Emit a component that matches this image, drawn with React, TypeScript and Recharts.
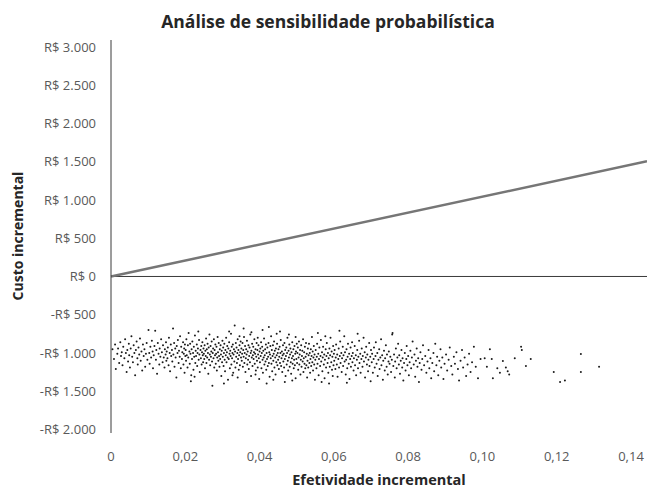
import React from 'react';
import { ScatterChart, Scatter, XAxis, YAxis, ReferenceLine } from 'recharts';

// Probabilistic sensitivity analysis simulations: [incremental effectiveness, incremental cost]
const psaSimulations: [number, number][] = [
  [0.0004,-950],[0.0008,-1080],[0.0011,-890],[0.0013,-1210],[0.0017,-1010],[0.0019,-940],[0.0022,-1130],[0.0025,-860],[0.0027,-1040],[0.0029,-990],[0.0031,-1160],[0.0033,-920],[0.0036,-1070],[0.0038,-820],[0.0040,-1000],[0.0042,-1250],[0.0044,-960],[0.0046,-1110],[0.0048,-880],[0.0049,-1030],
  [0.0051,-1190],[0.0053,-940],[0.0055,-780],[0.0057,-1050],[0.0059,-1120],[0.0061,-900],[0.0063,-1000],[0.0065,-1290],[0.0067,-960],[0.0069,-850],[0.0071,-1070],[0.0072,-1150],[0.0074,-930],[0.0076,-1020],[0.0078,-810],[0.0080,-1100],[0.0082,-980],[0.0084,-1230],[0.0086,-890],[0.0088,-1040],[0.0090,-950],[0.0092,-1180],[0.0094,-1010],[0.0096,-870],[0.0098,-1090],
  [0.0101,-700],[0.0103,-1000],[0.0104,-1140],[0.0106,-920],[0.0108,-1060],[0.0110,-840],[0.0112,-980],[0.0113,-1200],[0.0115,-1030],[0.0117,-910],[0.0119,-710],[0.0121,-1090],[0.0122,-960],[0.0124,-1270],[0.0126,-870],[0.0128,-1010],[0.0130,-1150],[0.0131,-940],[0.0133,-1050],[0.0135,-820],[0.0137,-990],[0.0139,-1120],[0.0140,-900],[0.0142,-1060],[0.0144,-1190],[0.0145,-950],[0.0147,-1020],[0.0148,-860],[0.0149,-1100],[0.0150,-980],
  [0.0152,-1070],[0.0153,-930],[0.0155,-1160],[0.0156,-800],[0.0158,-1000],[0.0159,-1240],[0.0161,-890],[0.0162,-1040],[0.0164,-960],[0.0165,-1110],[0.0167,-680],[0.0168,-1020],[0.0170,-870],[0.0171,-1180],[0.0173,-940],[0.0174,-1060],[0.0176,-1320],[0.0177,-910],[0.0179,-1000],[0.0180,-830],[0.0182,-1130],[0.0183,-970],[0.0185,-1050],[0.0186,-780],[0.0188,-1200],[0.0189,-920],[0.0191,-1080],[0.0192,-990],[0.0194,-860],[0.0195,-1150],[0.0196,-1010],[0.0197,-940],[0.0198,-1260],[0.0199,-890],[0.0200,-1040],
  [0.0201,-960],[0.0202,-1100],[0.0203,-820],[0.0204,-1030],[0.0206,-1190],[0.0207,-900],[0.0208,-1060],[0.0209,-740],[0.0211,-980],[0.0212,-1140],[0.0213,-880],[0.0214,-1010],[0.0216,-1290],[0.0217,-950],[0.0218,-1080],[0.0219,-850],[0.0221,-1000],[0.0222,-1220],[0.0223,-920],[0.0224,-1050],[0.0226,-770],[0.0227,-1130],[0.0228,-970],[0.0229,-1040],[0.0231,-890],[0.0232,-1170],[0.0233,-1000],[0.0234,-940],[0.0236,-1090],[0.0237,-830],[0.0238,-1020],[0.0239,-1250],[0.0241,-960],[0.0242,-1070],[0.0243,-910],[0.0244,-1150],[0.0245,-990],[0.0246,-860],[0.0247,-1030],[0.0248,-1120],[0.0249,-940],[0.0250,-1010],[0.0215,-1370],[0.0235,-720],[0.0225,-1310],
  [0.0251,-1080],[0.0252,-900],[0.0253,-1200],[0.0254,-970],[0.0255,-1040],[0.0256,-810],[0.0257,-1130],[0.0258,-950],[0.0259,-1060],[0.0260,-880],[0.0261,-1000],[0.0262,-1270],[0.0263,-930],[0.0264,-1090],[0.0265,-760],[0.0266,-1020],[0.0267,-1160],[0.0268,-910],[0.0269,-1050],[0.0270,-980],[0.0271,-850],[0.0272,-1110],[0.0273,-1430],[0.0274,-1000],[0.0275,-940],[0.0276,-1070],[0.0277,-820],[0.0278,-1190],[0.0279,-960],[0.0280,-1030],[0.0281,-890],[0.0282,-1140],[0.0283,-1010],[0.0284,-920],[0.0285,-1230],[0.0286,-1060],[0.0287,-790],[0.0288,-990],[0.0289,-1100],[0.0290,-870],[0.0291,-1040],[0.0292,-1180],[0.0293,-950],[0.0294,-1080],[0.0295,-900],[0.0296,-1020],[0.0297,-1300],[0.0298,-970],[0.0299,-1120],[0.0300,-840],
  [0.0301,-1050],[0.0302,-930],[0.0303,-1170],[0.0304,-1000],[0.0305,-880],[0.0306,-1090],[0.0307,-1240],[0.0308,-960],[0.0309,-1030],[0.0310,-800],[0.0311,-1120],[0.0312,-990],[0.0313,-910],[0.0314,-1060],[0.0315,-1350],[0.0316,-940],[0.0317,-1080],[0.0318,-860],[0.0319,-1010],[0.0320,-1200],[0.0321,-970],[0.0322,-1040],[0.0323,-750],[0.0324,-1150],[0.0325,-920],[0.0326,-1070],[0.0327,-1000],[0.0328,-890],[0.0329,-1260],[0.0330,-1020],[0.0331,-950],[0.0332,-1110],[0.0333,-640],[0.0334,-980],[0.0335,-1190],[0.0336,-870],[0.0337,-1050],[0.0338,-930],[0.0339,-1130],[0.0340,-1000],[0.0341,-820],[0.0342,-1080],[0.0343,-960],[0.0344,-1220],[0.0345,-1030],[0.0346,-900],[0.0347,-1160],[0.0348,-990],[0.0349,-850],[0.0350,-1060],[0.0304,-1400],[0.0318,-720],[0.0327,-1290],[0.0341,-1320],[0.0346,-780],
  [0.0351,-940],[0.0352,-1100],[0.0353,-1010],[0.0354,-870],[0.0355,-1180],[0.0356,-960],[0.0357,-1050],[0.0358,-790],[0.0359,-1130],[0.0360,-1000],[0.0361,-910],[0.0362,-1250],[0.0363,-1070],[0.0364,-950],[0.0365,-1020],[0.0366,-840],[0.0367,-1150],[0.0368,-980],[0.0369,-1090],[0.0370,-900],[0.0371,-1210],[0.0372,-1040],[0.0373,-930],[0.0374,-1120],[0.0375,-760],[0.0376,-1000],[0.0377,-1300],[0.0378,-970],[0.0379,-1060],[0.0380,-880],[0.0381,-1170],[0.0382,-1030],[0.0383,-920],[0.0384,-1080],[0.0385,-990],[0.0386,-820],[0.0387,-1140],[0.0388,-1010],[0.0389,-950],[0.0390,-1230],[0.0391,-1050],[0.0392,-870],[0.0393,-1100],[0.0394,-960],[0.0395,-1190],[0.0396,-1020],[0.0397,-900],[0.0398,-1070],[0.0399,-1340],[0.0400,-980],[0.0357,-680],[0.0366,-1380],[0.0378,-730],[0.0389,-1280],[0.0395,-800],
  [0.0401,-1120],[0.0402,-940],[0.0403,-1040],[0.0404,-860],[0.0405,-1200],[0.0406,-1000],[0.0407,-920],[0.0408,-1090],[0.0409,-1260],[0.0410,-970],[0.0411,-1060],[0.0412,-810],[0.0413,-1150],[0.0414,-1030],[0.0415,-950],[0.0416,-1110],[0.0417,-890],[0.0418,-1220],[0.0419,-1000],[0.0420,-1080],[0.0421,-930],[0.0422,-1170],[0.0423,-1050],[0.0424,-870],[0.0425,-1130],[0.0426,-990],[0.0427,-1310],[0.0428,-1020],[0.0429,-910],[0.0430,-1070],[0.0431,-780],[0.0432,-1140],[0.0433,-960],[0.0434,-1240],[0.0435,-1040],[0.0436,-900],[0.0437,-1100],[0.0438,-1010],[0.0439,-850],[0.0440,-1190],[0.0441,-970],[0.0442,-1060],[0.0443,-1280],[0.0444,-940],[0.0445,-1120],[0.0446,-1030],[0.0447,-880],[0.0448,-1160],[0.0449,-1000],[0.0450,-1090],[0.0408,-700],[0.0419,-1400],[0.0425,-660],[0.0437,-1350],[0.0446,-750],
  [0.0451,-950],[0.0452,-1210],[0.0453,-1050],[0.0454,-920],[0.0455,-1130],[0.0456,-1000],[0.0457,-830],[0.0458,-1170],[0.0459,-1070],[0.0460,-980],[0.0461,-1250],[0.0462,-1030],[0.0463,-900],[0.0464,-1110],[0.0465,-1010],[0.0466,-1190],[0.0467,-870],[0.0468,-1080],[0.0469,-960],[0.0470,-1300],[0.0471,-1040],[0.0472,-930],[0.0473,-1150],[0.0474,-1000],[0.0475,-800],[0.0476,-1100],[0.0477,-1230],[0.0478,-970],[0.0479,-1060],[0.0480,-890],[0.0481,-1180],[0.0482,-1020],[0.0483,-940],[0.0484,-1120],[0.0485,-1270],[0.0486,-990],[0.0487,-1070],[0.0488,-860],[0.0489,-1140],[0.0490,-1040],[0.0491,-950],[0.0492,-1200],[0.0493,-1090],[0.0494,-910],[0.0495,-1160],[0.0496,-1010],[0.0497,-1330],[0.0498,-980],[0.0499,-1080],[0.0500,-880],[0.0455,-720],[0.0468,-1380],[0.0479,-760],[0.0488,-1360],[0.0497,-790],
  [0.0501,-1130],[0.0502,-1000],[0.0503,-930],[0.0504,-1220],[0.0505,-1060],[0.0506,-850],[0.0507,-1150],[0.0508,-1020],[0.0509,-960],[0.0510,-1280],[0.0511,-1090],[0.0512,-900],[0.0513,-1180],[0.0514,-1040],[0.0515,-970],[0.0516,-1110],[0.0517,-820],[0.0518,-1250],[0.0519,-1070],[0.0520,-990],[0.0521,-1140],[0.0522,-920],[0.0523,-1200],[0.0524,-1050],[0.0525,-870],[0.0526,-1160],[0.0527,-1010],[0.0528,-1320],[0.0529,-1100],[0.0530,-940],[0.0531,-1190],[0.0532,-1030],[0.0533,-880],[0.0534,-1130],[0.0535,-1000],[0.0536,-1260],[0.0537,-1080],[0.0538,-950],[0.0539,-1170],[0.0540,-1040],[0.0541,-790],[0.0542,-1120],[0.0543,-980],[0.0544,-1230],[0.0545,-1060],[0.0546,-910],[0.0547,-1150],[0.0548,-1020],[0.0549,-1350],[0.0550,-1090],
  [0.0551,-960],[0.0553,-1200],[0.0554,-1050],[0.0555,-880],[0.0556,-1140],[0.0558,-1010],[0.0559,-1290],[0.0560,-1080],[0.0561,-930],[0.0563,-1170],[0.0564,-1040],[0.0565,-830],[0.0566,-1110],[0.0568,-990],[0.0569,-1240],[0.0570,-1060],[0.0571,-920],[0.0573,-1150],[0.0574,-1020],[0.0575,-1330],[0.0576,-1090],[0.0578,-950],[0.0579,-1190],[0.0580,-1040],[0.0581,-870],[0.0583,-1130],[0.0584,-1000],[0.0585,-1260],[0.0586,-1070],[0.0588,-940],[0.0589,-1180],[0.0590,-1030],[0.0591,-800],[0.0593,-1120],[0.0594,-980],[0.0595,-1220],[0.0596,-1050],[0.0598,-910],[0.0599,-1160],[0.0600,-1010],[0.0557,-740],[0.0567,-1380],[0.0577,-780],[0.0587,-1400],[0.0597,-1300],
  [0.0601,-1100],[0.0602,-960],[0.0604,-1210],[0.0605,-1060],[0.0606,-890],[0.0608,-1150],[0.0609,-1020],[0.0610,-1310],[0.0612,-1080],[0.0613,-940],[0.0614,-1190],[0.0616,-1040],[0.0617,-850],[0.0618,-1130],[0.0620,-1000],[0.0621,-1250],[0.0622,-1070],[0.0624,-920],[0.0625,-1170],[0.0626,-1030],[0.0628,-780],[0.0629,-1110],[0.0630,-990],[0.0632,-1280],[0.0633,-1090],[0.0634,-950],[0.0636,-1200],[0.0637,-1050],[0.0638,-880],[0.0640,-1140],[0.0641,-1010],[0.0642,-1340],[0.0644,-1080],[0.0645,-930],[0.0646,-1180],[0.0648,-1040],[0.0649,-860],[0.0650,-1120],[0.0615,-710],[0.0635,-1390],
  [0.0651,-1000],[0.0653,-1230],[0.0654,-1070],[0.0656,-910],[0.0657,-1160],[0.0659,-1030],[0.0660,-1290],[0.0662,-1090],[0.0663,-960],[0.0665,-1200],[0.0666,-1050],[0.0668,-840],[0.0669,-1130],[0.0671,-1010],[0.0672,-1260],[0.0674,-1080],[0.0675,-940],[0.0677,-1180],[0.0678,-1040],[0.0680,-800],[0.0681,-1110],[0.0683,-990],[0.0684,-1320],[0.0686,-1060],[0.0687,-920],[0.0689,-1150],[0.0690,-1020],[0.0692,-1240],[0.0693,-1090],[0.0695,-870],[0.0696,-1170],[0.0698,-1050],[0.0699,-1370],[0.0700,-960],[0.0664,-750],
  [0.0702,-1120],[0.0703,-1010],[0.0705,-1260],[0.0707,-1080],[0.0708,-930],[0.0710,-1190],[0.0712,-1040],[0.0713,-860],[0.0715,-1140],[0.0717,-1000],[0.0718,-1300],[0.0720,-1090],[0.0722,-950],[0.0723,-1210],[0.0725,-1060],[0.0727,-820],[0.0728,-1160],[0.0730,-1030],[0.0732,-1350],[0.0733,-1100],[0.0735,-970],[0.0737,-1230],[0.0738,-1070],[0.0740,-900],[0.0742,-1180],[0.0743,-1020],[0.0745,-1280],[0.0747,-1110],[0.0748,-980],[0.0750,-1140],
  [0.0752,-1050],[0.0754,-1250],[0.0756,-1090],[0.0757,-760],[0.0758,-740],[0.0760,-1170],[0.0762,-1020],[0.0764,-1320],[0.0765,-1110],[0.0767,-940],[0.0769,-1200],[0.0771,-1060],[0.0773,-880],[0.0775,-1150],[0.0776,-1030],[0.0778,-1270],[0.0780,-1100],[0.0782,-960],[0.0784,-1190],[0.0785,-1070],[0.0787,-1360],[0.0789,-1130],[0.0791,-1000],[0.0793,-1230],[0.0795,-1080],[0.0796,-910],[0.0798,-1160],[0.0800,-1040],
  [0.0802,-1290],[0.0804,-1120],[0.0806,-970],[0.0808,-1200],[0.0810,-1060],[0.0812,-850],[0.0815,-1150],[0.0817,-1020],[0.0819,-1310],[0.0821,-1100],[0.0823,-940],[0.0825,-1180],[0.0827,-1070],[0.0829,-1380],[0.0831,-1130],[0.0833,-990],[0.0836,-1220],[0.0838,-1080],[0.0840,-900],[0.0843,-1160],[0.0846,-1040],[0.0849,-1260],
  [0.0852,-1110],[0.0855,-960],[0.0857,-1200],[0.0860,-1070],[0.0862,-1330],[0.0865,-1130],[0.0868,-1000],[0.0870,-1240],[0.0873,-880],[0.0876,-1160],[0.0878,-1050],[0.0881,-1290],[0.0884,-1100],[0.0887,-950],[0.0889,-1190],[0.0892,-1060],[0.0895,-1340],[0.0898,-1140],
  [0.0902,-1020],[0.0905,-1230],[0.0909,-1090],[0.0912,-930],[0.0916,-1170],[0.0919,-1280],[0.0923,-1050],[0.0926,-1140],[0.0930,-990],[0.0934,-1210],[0.0937,-1360],[0.0941,-1100],[0.0945,-960],[0.0948,-1190],[0.0952,-1060],[0.0956,-1300],[0.0960,-1150],[0.0964,-1010],[0.0968,-1250],[0.0972,-1120],[0.0977,-920],[0.0982,-1180],[0.0988,-1330],[0.0995,-1080],
  [0.1006,-1070],[0.1012,-1180],[0.1020,-950],[0.1025,-1080],[0.1028,-1330],[0.1040,-1200],[0.1047,-1260],[0.1055,-1105],[0.1063,-1190],[0.1068,-1240],[0.1072,-1280],[0.1087,-1070],[0.1104,-920],[0.1106,-960],[0.1117,-1170],[0.1130,-1080],
  [0.1192,-1250],[0.1209,-1380],[0.1222,-1360],[0.1265,-1015],[0.1265,-1250],[0.1314,-1180],
];

// Willingness-to-pay threshold line end points
const thresholdEffect = [0, 0.1443];
const thresholdCost = [0, 1505];

const xTicks = [0, 0.02, 0.04, 0.06, 0.08, 0.1, 0.12, 0.14];
const yTicks = [-2000, -1500, -1000, -500, 0, 500, 1000, 1500, 2000, 2500, 3000];
const xDomain = [0, 0.1443];
const yDomain = [-2046, 3091];

const chartTitle = 'Análise de sensibilidade probabilística';
const xTitle = 'Efetividade incremental';
const yTitle = 'Custo incremental';

const scatterData = psaSimulations.map(([e, c]) => ({ e, c }));

const fmtCost = (v: number) => {
  const abs = Math.abs(v).toString().replace(/\B(?=(\d{3})+(?!\d))/g, '.');
  return (v < 0 ? '-R$ ' : 'R$ ') + abs;
};
const fmtEff = (v: number) => (v === 0 ? '0' : v.toFixed(2).replace('.', ','));

const FONT = '"Open Sans", "Noto Sans", sans-serif';

const Dot = (p: any) => <circle cx={p.cx} cy={p.cy} r={1} fill="#1a1a1a" />;

export default function App() {
  return (
    <div style={{ position: 'absolute', left: 0, top: 0, width: 647, height: 493, background: '#fff', fontFamily: FONT }}>
      <ScatterChart width={647} height={493} margin={{ top: 40, right: 0, bottom: 30, left: 0 }}>
        <XAxis
          type="number"
          dataKey="e"
          domain={xDomain}
          ticks={xTicks}
          interval={0}
          allowDataOverflow
          axisLine={false}
          tickLine={false}
          tickSize={0}
          tickMargin={19}
          height={30}
          tickFormatter={fmtEff}
          tick={{ fill: '#595959', fontSize: 13, fontFamily: FONT }}
        />
        <YAxis
          type="number"
          dataKey="c"
          domain={yDomain}
          ticks={yTicks}
          interval={0}
          allowDataOverflow
          width={111}
          axisLine={{ stroke: '#3a3a3a', strokeWidth: 1 }}
          tickLine={false}
          tickSize={0}
          tickMargin={15}
          tickFormatter={fmtCost}
          tick={{ fill: '#595959', fontSize: 13, fontFamily: FONT }}
        />
        <ReferenceLine y={0} stroke="#3a3a3a" strokeWidth={1} />
        <ReferenceLine
          segment={[
            { x: thresholdEffect[0], y: thresholdCost[0] },
            { x: thresholdEffect[1], y: thresholdCost[1] },
          ]}
          stroke="#767676"
          strokeWidth={2.5}
          ifOverflow="visible"
        />
        <Scatter data={scatterData} shape={Dot} isAnimationActive={false} />
      </ScatterChart>
      <div style={{ position: 'absolute', left: 0, width: 656, top: 9, textAlign: 'center', fontWeight: 700, fontSize: 17.5, color: '#262626', lineHeight: '24px' }}>
        {chartTitle}
      </div>
      <div style={{ position: 'absolute', left: 111, width: 536, top: 470, textAlign: 'center', fontWeight: 700, fontSize: 14.5, color: '#262626', lineHeight: '20px' }}>
        {xTitle}
      </div>
      <div style={{ position: 'absolute', left: 18, top: 236, transform: 'translate(-50%, -50%) rotate(-90deg)', whiteSpace: 'nowrap', fontWeight: 700, fontSize: 14, color: '#262626', lineHeight: '20px' }}>
        {yTitle}
      </div>
    </div>
  );
}
